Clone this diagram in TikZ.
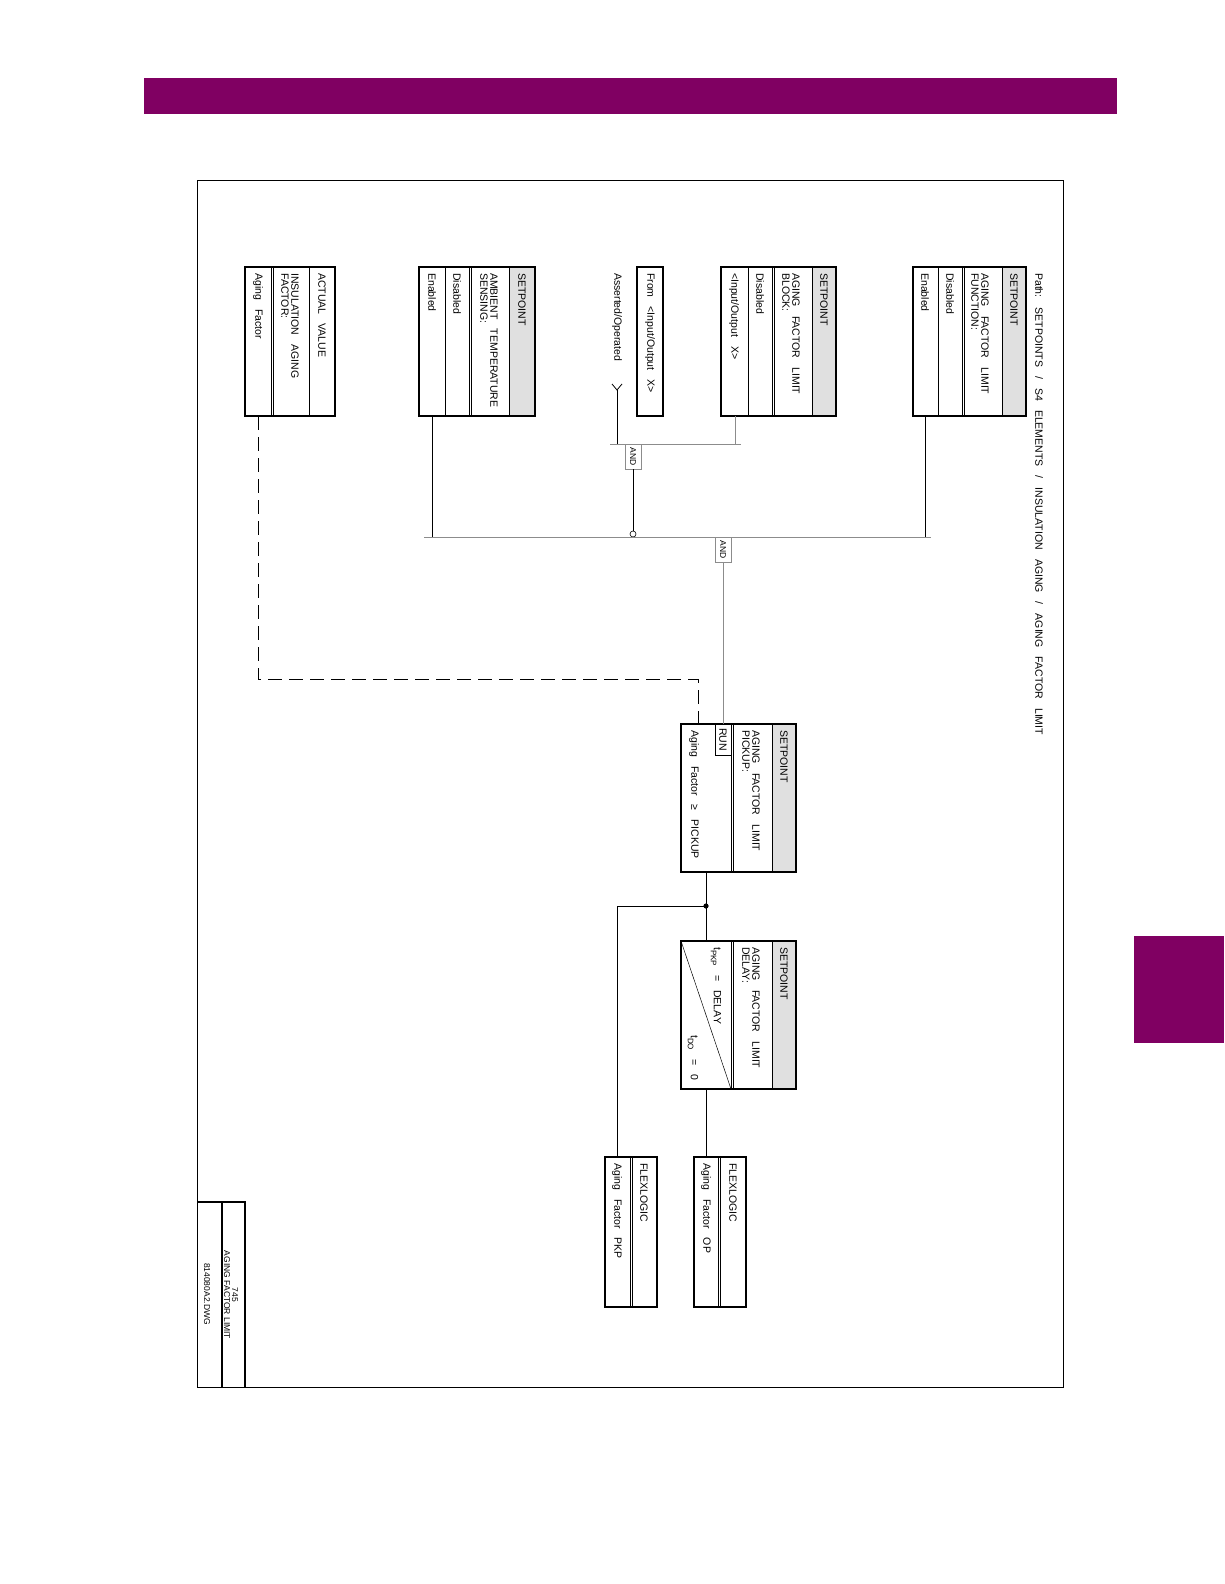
\documentclass[tikz,border=0pt]{standalone}
\usepackage{fontspec}
\setmainfont{Liberation Sans}
\newfontfamily\cadfont[FakeStretch=1.0,WordSpace=3.1]{Liberation Sans}
\usepackage{xcolor}
\usepackage{tikz}

\definecolor{gepurple}{RGB}{128,0,98}
\tikzset{
  box/.style={line width=1.6pt},
  div/.style={line width=0.5pt},
  wire/.style={line width=0.8pt},
  gwire/.style={line width=0.8pt, black!45},
  spshade/.style={fill=black!12},
  lbl/.style={rotate=-90, anchor=west, inner sep=0pt, align=left,
    font=\cadfont\fontsize{10.5}{10}\selectfont},
  gatebox/.style={draw=black!45, line width=0.6pt, rotate=-90, inner sep=0pt,
    minimum width=25pt, minimum height=16pt, font=\cadfont\fontsize{8.5}{8}\selectfont},
}

\begin{document}
\begin{tikzpicture}[x=1pt,y=-1pt]
\useasboundingbox (0,0) rectangle (1224,1584);
% page bar, side tab and frame
\fill[gepurple] (144,78) rectangle (1117,114);
\fill[gepurple] (1134,936) rectangle (1224,1043);
\draw[line width=0.7pt] (197,180) rectangle (1063,1387);

\node[lbl] (path) at (1039,273) {Path: SETPOINTS / S4 ELEMENTS / INSULATION AGING / AGING FACTOR LIMIT};

% function setpoint
\fill[spshade] (1002,267) rectangle (1026,416);
\draw[div] (938,267) -- (938,416) (962,267) -- (962,416) (964,267) -- (964,416) (1002,267) -- (1002,416);
\draw[box] (913,267) rectangle (1026,416);
\node[lbl] (fnsp) at (1014,273) {SETPOINT};
\node[lbl] (fnname) at (980,273) {AGING FACTOR LIMIT\\FUNCTION:};
\node[lbl] (fndis) at (950,273) {Disabled};
\node[lbl] (fnen) at (925,273) {Enabled};
\coordinate (fnout) at (925,416);

% block setpoint
\fill[spshade] (812,267) rectangle (836,416);
\draw[div] (748,267) -- (748,416) (772,267) -- (772,416) (774,267) -- (774,416) (812,267) -- (812,416);
\draw[box] (721,267) rectangle (836,416);
\node[lbl] (blsp) at (824,273) {SETPOINT};
\node[lbl] (blname) at (791,273) {AGING FACTOR LIMIT\\BLOCK:};
\node[lbl] (bldis) at (760,273) {Disabled};
\node[lbl] (blio) at (734,273) {<Input/Output X>};
\coordinate (blout) at (735,416);

% block source
\draw[line width=1.1pt] (637,267) rectangle (663,416);
\node[lbl] (from) at (650,273) {From <Input/Output X>};
\node[lbl] (asrt) at (617,273) {Asserted/Operated};
\draw[wire] (612,384) -- (617,390) -- (622,384);
\coordinate (asrtout) at (617,390);

% ambient temperature setpoint
\fill[spshade] (509,267) rectangle (535,416);
\draw[div] (445,267) -- (445,416) (469,267) -- (469,416) (471,267) -- (471,416) (509,267) -- (509,416);
\draw[box] (419,267) rectangle (535,416);
\node[lbl] (ambsp) at (522,273) {SETPOINT};
\node[lbl] (ambname) at (489,273) {AMBIENT TEMPERATURE\\SENSING:};
\node[lbl] (ambdis) at (457,273) {Disabled};
\node[lbl] (amben) at (432,273) {Enabled};
\coordinate (ambout) at (432,416);

% actual value
\draw[div] (271,267) -- (271,416) (273,267) -- (273,416) (309,267) -- (309,416);
\draw[box] (245,267) rectangle (335,416);
\node[lbl] (actv) at (322,273) {ACTUAL VALUE};
\node[lbl] (actname) at (290,273) {INSULATION AGING\\FACTOR:};
\node[lbl] (actaf) at (258,273) {Aging Factor};
\coordinate (actout) at (258,416);

% block gate
\coordinate (bus1L) at (610,444);
\coordinate (bus1R) at (741,444);
\draw[gwire] (bus1L) -- (bus1R);
\draw[gwire] (blout) -- (blout |- bus1L);
\draw[wire] (asrtout) -- (asrtout |- bus1L);
\node[gatebox] (and1) at (633,456.5) {AND};
\node[circle, draw, line width=0.6pt, inner sep=0pt, minimum size=6pt] (inv) at (633,534) {};
\draw[wire] (and1.east) -- (inv.north);

% main gate
\coordinate (busL) at (424,537);
\coordinate (busR) at (931,537);
\draw[gwire] (busL) -- (busR);
\draw[wire] (fnout) -- (fnout |- busL);
\draw[wire] (ambout) -- (ambout |- busL);
\node[gatebox] (and2) at (723,549.5) {AND};

% pickup setpoint
\fill[spshade] (772,724) rectangle (796,872);
\draw[div] (731,724) -- (731,872) (733,724) -- (733,872) (772,724) -- (772,872);
\draw[box] (681,724) rectangle (796,872);
\node[lbl] (pksp) at (784,730) {SETPOINT};
\node[lbl] (pkname) at (751,730) {AGING FACTOR LIMIT\\PICKUP:};
\node[lbl] (pkcmp) at (694,730) {Aging Factor ≥ PICKUP};
\node[draw, line width=0.8pt, rotate=-90, inner sep=0pt, minimum width=31pt, minimum height=16pt,
  font=\cadfont\fontsize{10.5}{10}\selectfont] (run) at (723,739.5) {RUN};
\coordinate (pkin) at (698,724);
\coordinate (pkout) at (706,872);
\draw[gwire] (and2.east) -- (run.west);
\draw[wire, dash pattern=on 14pt off 7pt] (actout) |- (698,679) -- (pkin);

% delay setpoint
\fill[spshade] (772,941) rectangle (796,1089);
\draw[div] (731,941) -- (731,1089) (733,941) -- (733,1089) (772,941) -- (772,1089);
\draw[div] (681,941) -- (731,1089);
\draw[box] (681,941) rectangle (796,1089);
\node[lbl] (dlsp) at (784,947) {SETPOINT};
\node[lbl] (dlname) at (751,947) {AGING FACTOR LIMIT\\DELAY:};
\node[lbl] (tpkp) at (716,947) {t\raisebox{-0.55ex}{\fontsize{8}{8}\selectfont PKP} = DELAY};
\node[lbl] (tdo) at (693,1035) {t\raisebox{-0.55ex}{\fontsize{8}{8}\selectfont DO} = 0};
\coordinate (dlin) at (706,941);
\coordinate (dlout) at (706,1089);
\fill (706,906) circle (2.6) coordinate (jn);

% flexlogic operands
\draw[div] (718,1157) -- (718,1307) (720,1157) -- (720,1307);
\draw[box] (694,1157) rectangle (746,1307);
\node[lbl] (opfl) at (733,1163) {FLEXLOGIC};
\node[lbl] (opname) at (706,1163) {Aging Factor OP};
\coordinate (opin) at (706,1157);
\draw[div] (630,1157) -- (630,1307) (632,1157) -- (632,1307);
\draw[box] (605,1157) rectangle (657,1307);
\node[lbl] (pkpfl) at (644,1163) {FLEXLOGIC};
\node[lbl] (pkpname) at (617,1163) {Aging Factor PKP};
\coordinate (pkpin) at (617,1157);

\draw[wire] (pkout) -- (jn) -- (dlin);
\draw[wire] (dlout) -- (opin);
\draw[wire] (jn) -| (pkpin);

% title block
\draw[line width=1.4pt] (197,1202) -- (245,1202) -- (245,1387);
\draw[line width=1.1pt] (222,1202) -- (222,1387);
\node[rotate=-90, align=center, inner sep=0pt, font=\fontsize{8.5}{8}\selectfont] (ttl) at (231,1295) {745\\AGING FACTOR LIMIT};
\node[rotate=-90, inner sep=0pt, font=\fontsize{8.5}{8}\selectfont] (dwg) at (207,1294) {814080A2.DWG};
\end{tikzpicture}
\end{document}
